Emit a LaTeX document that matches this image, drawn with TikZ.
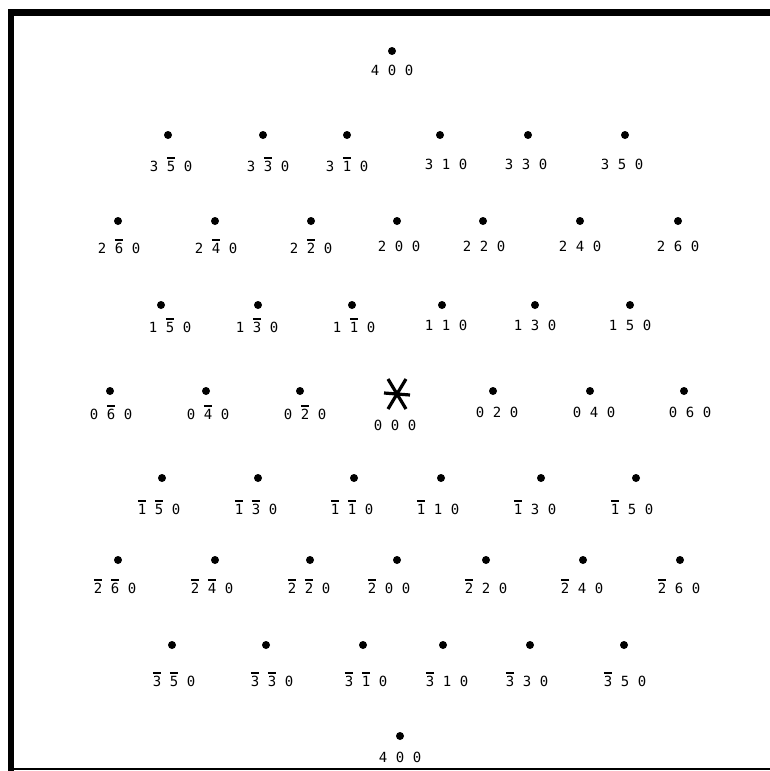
\documentclass[tikz,border=0pt]{standalone}
\usepackage{fontspec}
\newfontfamily\lblfont{DejaVu Sans Mono}
\newcommand\dg[1]{\makebox[17pt][c]{#1}}
\newcommand\ob[1]{\leavevmode\rlap{\raisebox{12.5pt}{\rule{8.4pt}{2.2pt}}}#1}
\newcommand\tri[3]{\dg{#1}\dg{#2}\dg{#3}}
\newcommand\refl[6]{\node[spot] (d#1) at (#2,#3) {}; \node[lab] (l#1) at (#4,#5) {#6};}
\tikzset{
  spot/.style={circle, fill=black, inner sep=0pt, minimum size=8pt},
  lab/.style={inner sep=0pt, font=\lblfont\fontsize{14pt}{14pt}\selectfont},
  frameline/.style={draw=black},
}
\begin{document}
\begin{tikzpicture}[x=1pt,y=-1pt]
\useasboundingbox (0,0) rectangle (770,771);
% frame
\coordinate (tl) at (8,12.5);
\coordinate (tr) at (770,12.5);
\coordinate (ltop) at (11,9);
\coordinate (lbot) at (11,771);
\coordinate (bl) at (8,769);
\coordinate (br) at (770,769);
\draw[frameline, line width=7pt] (tl) -- (tr);
\draw[frameline, line width=5.5pt] (ltop) -- (lbot);
\draw[frameline, line width=2pt] (bl) -- (br);
% top
\refl{t400}{392}{51}{392}{70}{\tri{4}{0}{0}}
% row 1
\refl{a1}{168}{135}{171}{164}{\tri{3}{\ob{5}}{0}}
\refl{a2}{263}{135}{268}{164}{\tri{3}{\ob{3}}{0}}
\refl{a3}{347}{135}{347}{164}{\tri{3}{\ob{1}}{0}}
\refl{a4}{440}{135}{446}{164}{\tri{3}{1}{0}}
\refl{a5}{528}{135}{526}{164}{\tri{3}{3}{0}}
\refl{a6}{625}{135}{622}{164}{\tri{3}{5}{0}}
% row 2
\refl{b1}{118}{221}{119}{246}{\tri{2}{\ob{6}}{0}}
\refl{b2}{215}{221}{216}{246}{\tri{2}{\ob{4}}{0}}
\refl{b3}{311}{221}{311}{246}{\tri{2}{\ob{2}}{0}}
\refl{b4}{397}{221}{399}{246}{\tri{2}{0}{0}}
\refl{b5}{483}{221}{484}{246}{\tri{2}{2}{0}}
\refl{b6}{580}{221}{580}{246}{\tri{2}{4}{0}}
\refl{b7}{678}{221}{678}{246}{\tri{2}{6}{0}}
% row 3
\refl{c1}{161}{305}{170}{325}{\tri{1}{\ob{5}}{0}}
\refl{c2}{258}{305}{257}{325}{\tri{1}{\ob{3}}{0}}
\refl{c3}{352}{305}{354}{325}{\tri{1}{\ob{1}}{0}}
\refl{c4}{442}{305}{446}{325}{\tri{1}{1}{0}}
\refl{c5}{535}{305}{535}{325}{\tri{1}{3}{0}}
\refl{c6}{630}{305}{630}{325}{\tri{1}{5}{0}}
% row 4
\refl{e1}{110}{391}{111}{412}{\tri{0}{\ob{6}}{0}}
\refl{e2}{206}{391}{208}{412}{\tri{0}{\ob{4}}{0}}
\refl{e3}{300}{391}{305}{412}{\tri{0}{\ob{2}}{0}}
\refl{e5}{493}{391}{497}{412}{\tri{0}{2}{0}}
\refl{e6}{590}{391}{594}{412}{\tri{0}{4}{0}}
\refl{e7}{684}{391}{690}{412}{\tri{0}{6}{0}}
% origin star
\coordinate (o) at (397,394);
\draw[line width=3.2pt] ([shift={(-13,-1)}]o) -- ([shift={(13,1)}]o);
\draw[line width=3.2pt] ([shift={(-9,-15)}]o) -- ([shift={(9,15)}]o);
\draw[line width=3.2pt] ([shift={(9,-15)}]o) -- ([shift={(-9,15)}]o);
\node[lab] (l000) at (395,425) {\tri{0}{0}{0}};
% row 5
\refl{f1}{162}{478}{159}{507}{\tri{\ob{1}}{\ob{5}}{0}}
\refl{f2}{258}{478}{256}{507}{\tri{\ob{1}}{\ob{3}}{0}}
\refl{f3}{354}{478}{352}{507}{\tri{\ob{1}}{\ob{1}}{0}}
\refl{f4}{441}{478}{438}{507}{\tri{\ob{1}}{1}{0}}
\refl{f5}{541}{478}{535}{507}{\tri{\ob{1}}{3}{0}}
\refl{f6}{636}{478}{632}{507}{\tri{\ob{1}}{5}{0}}
% row 6
\refl{g1}{118}{560}{115}{586}{\tri{\ob{2}}{\ob{6}}{0}}
\refl{g2}{215}{560}{212}{586}{\tri{\ob{2}}{\ob{4}}{0}}
\refl{g3}{310}{560}{309}{586}{\tri{\ob{2}}{\ob{2}}{0}}
\refl{g4}{397}{560}{389}{586}{\tri{\ob{2}}{0}{0}}
\refl{g5}{486}{560}{486}{586}{\tri{\ob{2}}{2}{0}}
\refl{g6}{583}{560}{582}{586}{\tri{\ob{2}}{4}{0}}
\refl{g7}{680}{560}{679}{586}{\tri{\ob{2}}{6}{0}}
% row 7
\refl{h1}{172}{645}{174}{679}{\tri{\ob{3}}{\ob{5}}{0}}
\refl{h2}{266}{645}{272}{679}{\tri{\ob{3}}{\ob{3}}{0}}
\refl{h3}{363}{645}{366}{679}{\tri{\ob{3}}{\ob{1}}{0}}
\refl{h4}{443}{645}{447}{679}{\tri{\ob{3}}{1}{0}}
\refl{h5}{530}{645}{527}{679}{\tri{\ob{3}}{3}{0}}
\refl{h6}{624}{645}{625}{679}{\tri{\ob{3}}{5}{0}}
% bottom
\refl{b400}{400}{736}{400}{757}{\tri{4}{0}{0}}
\end{tikzpicture}
\end{document}
